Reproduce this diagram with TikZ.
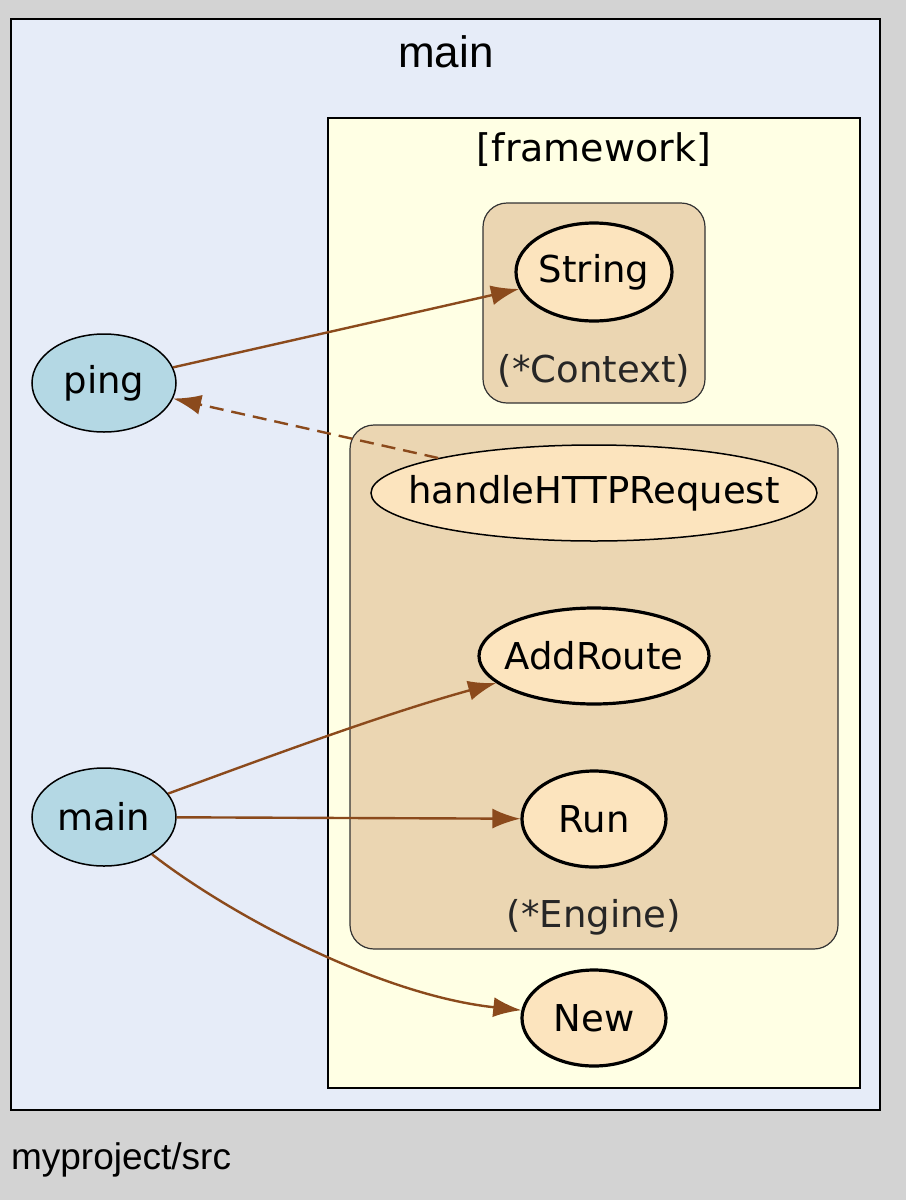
\documentclass[tikz,border=0pt]{standalone}
\usepackage{fontspec}
\setmainfont{DejaVu Sans}
\newfontfamily\arialfont{Liberation Sans}
\usetikzlibrary{shapes.geometric,arrows.meta}
\definecolor{pagegray}{HTML}{D3D3D3}
\definecolor{pkgfill}{HTML}{E6ECF8}
\definecolor{libfill}{HTML}{FFFFE4}
\definecolor{typefill}{HTML}{EBD6B2}
\definecolor{fnfill}{HTML}{FCE4BE}
\definecolor{localfill}{HTML}{B4D8E4}
\definecolor{calledge}{HTML}{8B4A1C}
\tikzset{fn/.style = {font=\fontsize{18.5}{22}\selectfont},
         func/.style = {draw, ellipse, fill=fnfill, line width=0.75pt, inner sep=0pt, minimum width=72pt, minimum height=48pt},
         exported/.style = {func, line width=1.6pt},
         local/.style = {func, fill=localfill, minimum height=49pt},
         typebox/.style = {draw=black!80, fill=typefill, line width=0.6pt, rounded corners=12pt},
         call/.style = {draw=calledge, line width=1.2pt, -{Latex[length=14pt,width=10pt]}}}

\begin{document}
\begin{tikzpicture}[x=0.5pt,y=-0.5pt]
    \fill[pagegray] (0,0) rectangle (906,1200);
    \useasboundingbox (0,0) rectangle (906,1200);

    % package main
    \draw[fill=pkgfill, line width=0.6pt] (11,19) rectangle (880,1110);
    \node[font=\arialfont\fontsize{22}{26}\selectfont] (pkgname) at (446,52) {main};
    \node[font=\arialfont\fontsize{18.5}{22}\selectfont, anchor=west] (path) at (4,1160) {myproject/src};

    % framework
    \draw[fill=libfill, line width=1pt] (328,118) rectangle (860,1088);
    \node[fn, font=\fontsize{19}{23}\selectfont] (libname) at (594,150) {[framework]};
    \draw[typebox] (483,203) rectangle (705,403);
    \node[fn, text=black!85] (ctx) at (594,371) {(*Context)};
    \draw[typebox] (350,425) rectangle (838,949);
    \node[fn, text=black!85] (eng) at (594,917) {(*Engine)};

    \node[exported, minimum width=78pt, minimum height=49pt, label={[fn]center:String}] (str) at (594,272) {};
    \node[func, minimum width=223pt, label={[fn]center:handleHTTPRequest}] (hhr) at (594,493) {};
    \node[exported, minimum width=115pt, label={[fn]center:AddRoute}] (addr) at (594,656) {};
    \node[exported, label={[fn]center:Run}] (run) at (594,819) {};
    \node[exported, label={[fn]center:New}] (new) at (594,1018) {};

    \node[local, label={[fn]center:ping}] (ping) at (104,383) {};
    \node[local, label={[fn]center:main}] (mainfn) at (104,817) {};

    \draw[call] (ping) -- (str);
    \draw[call, dash pattern=on 7pt off 4pt] (hhr) -- (ping);
    \draw[call] (mainfn) .. controls (260,760) and (380,715) .. (addr);
    \draw[call] (mainfn) -- (run);
    \draw[call] (mainfn) .. controls (230,915) and (380,995) .. (new);
\end{tikzpicture}
\end{document}
